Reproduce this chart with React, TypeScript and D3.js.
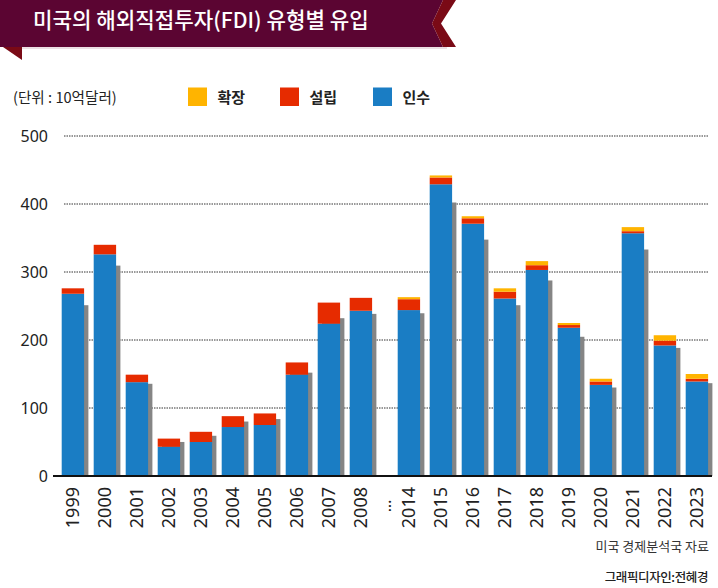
import React from 'react';
import * as d3 from 'd3';

const categories = ['1999','2000','2001','2002','2003','2004','2005','2006','2007','2008','…','2014','2015','2016','2017','2018','2019','2020','2021','2022','2023'];
const acquisition = [268,326,138,43,50,72,75,149,224,243,null,244,429,371,261,303,218,134,357,192,139];
const establishment = [8,14,11,12,15,16,17,18,31,19,null,16,10,8,10,7,4,5,3,7,4];
const expansion = [0,0,0,0,0,0,0,0,0,0,null,3,3,3,5,6,3,4,6,8,7];
const yTicks = [0,100,200,300,400,500];
const seriesNames = ['확장','설립','인수'];
const seriesColors = ['#FFB400','#E62B00','#1A7DC4'];
const title = '미국의 해외직접투자(FDI) 유형별 유입';
const unitLabel = '(단위 : 10억달러)';
const sourceLabel = '미국 경제분석국 자료';
const creditLabel = '그래픽디자인:전혜경';

const W = 718, H = 588;
const gapIndex = categories.indexOf('…');
const slot = (i: number) => (i < gapIndex ? i : i === gapIndex ? i - 0.25 : i - 0.5);

export default function App() {
  const x = d3.scaleLinear().domain([0, 19.5]).range([72.9, 696.9]);
  const y = d3.scaleLinear().domain([0, 500]).range([476, 136]);
  const bw = 22.4;
  const font = "'Noto Sans CJK KR', 'Noto Sans', sans-serif";
  const numFont = "'Noto Sans', 'DejaVu Sans', sans-serif";

  const bars = categories.map((c, i) => {
    const a = acquisition[i];
    if (a == null) return null;
    const e = establishment[i] as number;
    const x2 = expansion[i] as number;
    const total = a + e + x2;
    const cx = x(slot(i));
    const left = cx - bw / 2;
    const stack = d3.stack<any>().keys(['a','e','x'])([{ a, e, x: x2 }]);
    return (
      <g key={c}>
        <rect x={left + 4.3} y={y(total * 0.91)} width={bw} height={y(0) - y(total * 0.91)} fill="#858585" />
        {stack.map((s, k) => {
          const [y0, y1] = s[0];
          if (y1 - y0 <= 0) return null;
          const col = k === 0 ? seriesColors[2] : k === 1 ? seriesColors[1] : seriesColors[0];
          return <rect key={k} x={left} y={y(y1)} width={bw} height={y(y0) - y(y1)} fill={col} />;
        })}
      </g>
    );
  });

  return (
    <svg width={W} height={H} style={{ position: 'absolute', left: 0, top: 0, background: '#fff' }}>
      {/* banner */}
      <polygon points="0,0 443,0 432,23.5 443,47 0,47" fill="#5B0532" />
      <polygon points="443,0 456,0 441,23.5 456,47 443,47 432,23.5" fill="#7A0A16" />
      <polygon points="3,47 22,47 22,60" fill="#7A0A16" />
      <line x1={22} x2={447} y1={48} y2={48} stroke="#d8c0c8" strokeWidth={1} />
      <text x={33} y={21} dy="0.35em" fill="#fff" fontFamily={font} fontSize={21.2} fontWeight={500}>{title}</text>

      {/* legend */}
      <text x={13} y={98} dy="0.35em" fill="#222" fontFamily={font} fontSize={14.6}>{unitLabel}</text>
      {seriesNames.map((n, k) => {
        const lx = [188, 280, 373][k];
        return (
          <g key={n}>
            <rect x={lx} y={87.5} width={19} height={18.5} fill={seriesColors[k]} />
            <text x={lx + 29.5} y={97.5} dy="0.35em" fill="#222" fontFamily={font} fontSize={15} fontWeight={700}>{n}</text>
          </g>
        );
      })}

      {/* gridlines */}
      {yTicks.filter(t => t > 0).map(t => (
        <line key={t} x1={64} x2={709} y1={y(t)} y2={y(t)} stroke="#333" strokeWidth={1} strokeDasharray="1.5,1" />
      ))}
      {yTicks.map(t => (
        <text key={t} x={48} y={y(t)} dy="0.36em" textAnchor="end" fill="#222" fontFamily={numFont} fontSize={16}>{t}</text>
      ))}

      {bars}

      <line x1={53} x2={712} y1={y(0)} y2={y(0)} stroke="#111" strokeWidth={2} />

      {categories.map((c, i) => {
        const cx = x(slot(i));
        if (i === gapIndex) {
          return (
            <text key={c} transform={`translate(${cx},506) rotate(-90)`} textAnchor="middle" dy="0.35em" fill="#222" fontFamily={numFont} fontSize={16}>…</text>
          );
        }
        return (
          <text key={c} transform={`translate(${cx},487) rotate(-90)`} textAnchor="end" dy="0.36em" fill="#222" fontFamily={numFont} fontSize={18}>{c}</text>
        );
      })}

      <text x={709} y={546} dy="0.35em" textAnchor="end" fill="#333" fontFamily={font} fontSize={13}>{sourceLabel}</text>
      <text x={708} y={578} dy="0.35em" textAnchor="end" fill="#222" fontFamily={font} fontSize={12.5} fontWeight={500} letterSpacing={-0.4}>{creditLabel}</text>
    </svg>
  );
}
